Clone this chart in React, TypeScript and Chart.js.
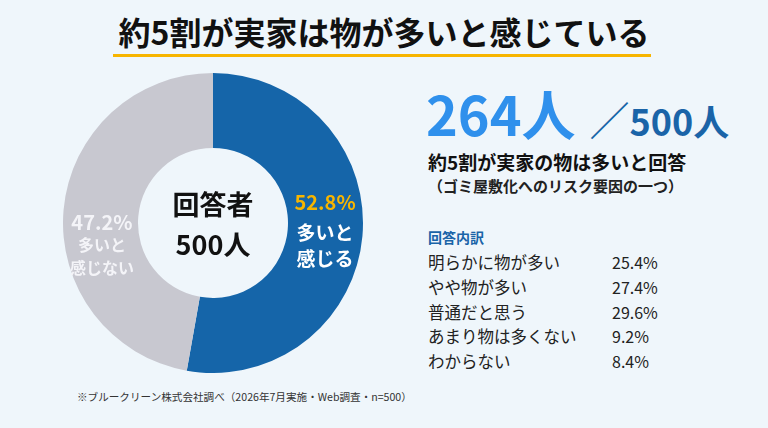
import React, { useEffect, useRef } from "react";
import { Chart, registerables } from "chart.js";

Chart.register(...registerables);

const FONT = '"Noto Sans CJK JP", "Noto Sans", sans-serif';

// Overall answer split (%)
const sliceLabels = ["多いと感じる", "多いと感じない"];
const sliceValues = [52.8, 47.2];
const sliceColors = ["#1565a9", "#c8c8d0"];

// Breakdown table
const breakdownLabels = ["明らかに物が多い", "やや物が多い", "普通だと思う", "あまり物は多くない", "わからない"];
const breakdownValues = [25.4, 27.4, 29.6, 9.2, 8.4];

const respondents = 500;
const feelMany = 264;

const sliceTextPlugin = {
  id: "sliceText",
  afterDatasetsDraw(chart: any) {
    const ctx = chart.ctx;
    const meta = chart.getDatasetMeta(0);
    const arcs = meta.data;
    ctx.save();
    ctx.textAlign = "center";
    ctx.textBaseline = "middle";

    // centre caption
    const c = arcs[0];
    ctx.fillStyle = "#111";
    ctx.font = `bold 27px ${FONT}`;
    ctx.fillText("回答者", c.x, c.y - 18);
    ctx.fillText(`${respondents}人`, c.x, c.y + 22);

    // slice 0 label
    const p0 = arcs[0].tooltipPosition();
    ctx.font = `bold 20px ${FONT}`;
    ctx.fillStyle = "#f7b500";
    ctx.fillText(`${sliceValues[0].toFixed(1)}%`, p0.x, p0.y - 30);
    ctx.font = `bold 19px ${FONT}`;
    ctx.fillStyle = "#ffffff";
    ctx.fillText("多いと", p0.x, p0.y);
    ctx.fillText("感じる", p0.x, p0.y + 26);

    // slice 1 label
    const p1 = arcs[1].tooltipPosition();
    ctx.fillStyle = "#f4f4f8";
    ctx.font = `bold 20px ${FONT}`;
    ctx.fillText(`${sliceValues[1].toFixed(1)}%`, p1.x + 1, p1.y + 9);
    ctx.font = `bold 16px ${FONT}`;
    ctx.fillText("多いと", p1.x + 1, p1.y + 32);
    ctx.fillText("感じない", p1.x + 1, p1.y + 55);
    ctx.restore();
  },
};

function Doughnut() {
  const ref = useRef<HTMLCanvasElement>(null);
  useEffect(() => {
    const chart = new Chart(ref.current!, {
      type: "doughnut",
      data: {
        labels: sliceLabels,
        datasets: [
          {
            data: sliceValues,
            backgroundColor: sliceColors,
            borderWidth: 0,
          },
        ],
      },
      options: {
        responsive: false,
        animation: false,
        cutout: "50%",
        layout: { padding: 0 },
        plugins: { legend: { display: false }, tooltip: { enabled: false } },
      },
      plugins: [sliceTextPlugin],
    });
    return () => chart.destroy();
  }, []);
  return (
    <canvas
      ref={ref}
      width={300}
      height={300}
      style={{ position: "absolute", left: 63, top: 73, width: 300, height: 300 }}
    />
  );
}

export default function App() {
  useEffect(() => {
    document.body.style.margin = "0";
  }, []);
  return (
    <div
      style={{
        position: "fixed",
        left: 0,
        top: 0,
        width: 768,
        height: 428,
        background: "#eff6fb",
        fontFamily: FONT,
        overflow: "hidden",
        color: "#222",
      }}
    >
      <div
        style={{
          position: "absolute",
          left: 0,
          width: 768,
          top: 10,
          textAlign: "center",
          fontSize: 32,
          fontWeight: 700,
          color: "#111",
          lineHeight: "42px",
        }}
      >
        約5割が実家は物が多いと感じている
      </div>
      <div style={{ position: "absolute", left: 113, top: 54, width: 538, height: 3, background: "#f7b500" }} />

      <Doughnut />

      <div style={{ position: "absolute", left: 426, top: 86, whiteSpace: "nowrap", lineHeight: 1 }}>
        <span style={{ fontSize: 54, fontWeight: 700, color: "#2f90ec" }}>{feelMany}人</span>
        <span style={{ fontSize: 40, fontWeight: 400, color: "#1a64a8", marginLeft: 14 }}>／</span>
        <span style={{ fontSize: 36, fontWeight: 700, color: "#1a64a8" }}>{respondents}人</span>
      </div>
      <div style={{ position: "absolute", left: 428, top: 148, fontSize: 19, fontWeight: 700, color: "#111", whiteSpace: "nowrap" }}>
        約5割が実家の物は多いと回答
      </div>
      <div style={{ position: "absolute", left: 428, top: 175, fontSize: 15, fontWeight: 700, color: "#222", whiteSpace: "nowrap" }}>
        （ゴミ屋敷化へのリスク要因の一つ）
      </div>

      <div style={{ position: "absolute", left: 428, top: 227, fontSize: 14, fontWeight: 700, color: "#1a64a8" }}>回答内訳</div>
      {breakdownLabels.map((l, i) => (
        <React.Fragment key={l}>
          <div style={{ position: "absolute", left: 428, top: 250 + i * 24.8, fontSize: 16.5, color: "#222", whiteSpace: "nowrap", lineHeight: "24px" }}>{l}</div>
          <div style={{ position: "absolute", left: 612, top: 250 + i * 24.8, fontSize: 16, color: "#222", whiteSpace: "nowrap", lineHeight: "24px" }}>
            {breakdownValues[i].toFixed(1)}%
          </div>
        </React.Fragment>
      ))}

      <div style={{ position: "absolute", left: 77, top: 389, fontSize: 10.6, color: "#333", whiteSpace: "nowrap" }}>
        ※ブルークリーン株式会社調べ（2026年7月実施・Web調査・n=500）
      </div>
    </div>
  );
}
